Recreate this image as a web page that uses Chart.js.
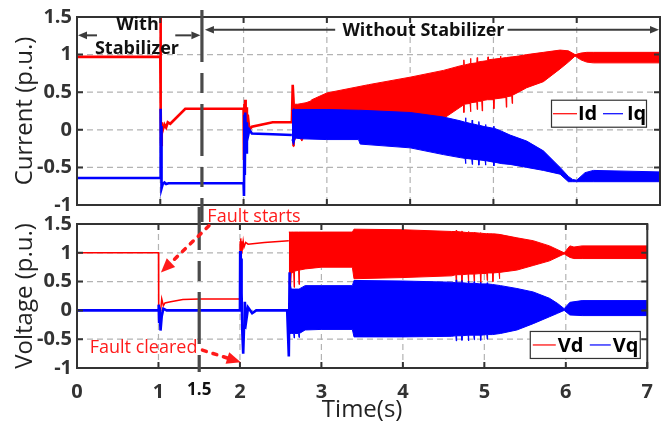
<!DOCTYPE html>
<html><head><meta charset="utf-8">
<script src="https://cdn.jsdelivr.net/npm/chart.js@4.4.1/dist/chart.umd.min.js"></script>
<style>
html,body{margin:0;padding:0;background:#fff;}
#wrap{position:relative;width:665px;height:427px;overflow:hidden;background:#fff;}
#c1{position:absolute;left:0;top:0;}
#c2{position:absolute;left:0;top:207px;}
</style></head><body>
<div id="wrap"><canvas id="c1" width="665" height="222"></canvas><canvas id="c2" width="665" height="220"></canvas></div>
<script>
// ---------- axis ticks ----------
const xTickVals = [0, 1, 1.5, 2, 3, 4, 5, 6, 7];
const xTickLabels = ['0', '1', '1.5', '2', '3', '4', '5', '6', '7'];
const yTickVals = [-1, -0.5, 0, 0.5, 1, 1.5];
const yTickLabels = ['-1', '-0.5', '0', '0.5', '1', '1.5'];
const xGridVals = [1, 2, 3, 4, 5, 6];
const yGridVals = [-0.5, 0, 0.5, 1];

// ---------- Current: Id ----------
const idT = [0, 1.0, 1.003, 1.006, 1.01, 1.015, 1.02, 1.03, 1.05, 1.07, 1.09, 1.12, 1.3, 2.0, 2.005, 2.01, 2.015, 2.02, 2.025, 2.03, 2.04, 2.05, 2.07, 2.1, 2.35, 2.58, 2.59, 2.6];
const idV = [0.97, 0.97, 1.5, 0.3, -0.2, 0.1, -0.05, 0.0, 0.07, 0.03, 0.1, 0.08, 0.28, 0.28, -0.4, 0.35, -0.3, 0.4, -0.2, 0.3, -0.1, 0.2, 0.0, 0.04, 0.1, 0.1, 0.6, -0.22];
const idBandT = [2.60, 2.61, 2.65, 2.70, 2.75, 2.80, 2.82, 3.00, 3.50, 4.00, 4.40, 4.60, 4.64, 4.645, 4.65, 4.72, 4.725, 4.73, 4.80, 4.805, 4.81, 4.86, 4.865, 4.87, 4.93, 4.935, 4.94, 5.00, 5.005, 5.01, 5.08, 5.085, 5.09, 5.15, 5.155, 5.16, 5.22, 5.225, 5.23, 5.30, 5.40, 5.60, 5.80, 5.90, 5.98, 6.05, 6.12, 6.20, 7.00];
const idUpper = [0.59, 0.34, 0.34, 0.35, 0.36, 0.38, 0.40, 0.49, 0.60, 0.70, 0.79, 0.85, 0.86, 0.93, 0.86, 0.88, 0.95, 0.88, 0.89, 0.96, 0.90, 0.91, 0.91, 0.91, 0.92, 0.97, 0.93, 0.94, 0.94, 0.94, 0.95, 0.98, 0.95, 0.96, 0.96, 0.96, 0.97, 0.97, 0.97, 0.98, 1.00, 1.03, 1.06, 1.05, 1.00, 1.02, 1.03, 1.03, 1.03];
const idLower = [-0.23, -0.15, -0.05, -0.15, -0.03, -0.12, -0.10, -0.08, -0.02, 0.10, 0.15, 0.30, 0.33, 0.23, 0.34, 0.35, 0.24, 0.36, 0.37, 0.27, 0.38, 0.38, 0.25, 0.39, 0.40, 0.40, 0.40, 0.40, 0.28, 0.41, 0.42, 0.42, 0.42, 0.43, 0.30, 0.44, 0.45, 0.35, 0.46, 0.50, 0.56, 0.64, 0.81, 0.90, 0.98, 0.93, 0.90, 0.89, 0.89];

// ---------- Current: Iq ----------
const iqT = [0, 1.0, 1.002, 1.006, 1.01, 1.015, 1.03, 1.05, 1.07, 1.1, 2.0, 2.005, 2.01, 2.015, 2.02, 2.03, 2.04, 2.05, 2.07, 2.1, 2.35, 2.58];
const iqV = [-0.64, -0.64, 0.28, -0.1, 0.05, -0.78, -0.72, -0.7, -0.72, -0.71, -0.71, -0.88, 0.2, -0.6, 0.23, -0.3, 0.1, -0.1, 0.0, -0.05, -0.06, -0.07];
const iqBandT = [2.58, 2.60, 2.62, 2.70, 3.00, 3.38, 3.40, 4.00, 4.40, 4.60, 4.66, 4.665, 4.67, 4.74, 4.745, 4.75, 4.82, 4.825, 4.83, 4.90, 4.905, 4.91, 5.00, 5.005, 5.01, 5.10, 5.20, 5.40, 5.60, 5.80, 5.90, 5.95, 6.00, 6.10, 6.20, 7.00];
const iqUpper = [0.25, 0.28, 0.27, 0.27, 0.27, 0.26, 0.26, 0.23, 0.17, 0.12, 0.10, 0.16, 0.10, 0.08, 0.13, 0.08, 0.06, 0.11, 0.06, 0.04, 0.07, 0.04, 0.02, 0.05, 0.02, -0.02, -0.07, -0.15, -0.28, -0.50, -0.62, -0.66, -0.67, -0.57, -0.54, -0.56];
const iqLower = [-0.13, -0.20, -0.11, -0.12, -0.13, -0.13, -0.19, -0.24, -0.33, -0.37, -0.38, -0.45, -0.38, -0.39, -0.46, -0.39, -0.40, -0.47, -0.40, -0.41, -0.47, -0.41, -0.43, -0.48, -0.43, -0.45, -0.46, -0.50, -0.54, -0.59, -0.69, -0.69, -0.69, -0.69, -0.69, -0.69];

// ---------- Voltage: Vd ----------
const vdT = [0, 1.0, 1.003, 1.01, 1.02, 1.04, 1.06, 1.08, 1.15, 1.3, 1.5, 2.0, 2.003, 2.008, 2.012, 2.016, 2.02, 2.03, 2.04, 2.05, 2.07, 2.1, 2.3, 2.6];
const vdV = [1.0, 1.0, -0.2, 0.0, -0.1, 0.2, 0.08, 0.13, 0.15, 0.19, 0.2, 0.2, 1.2, 0.8, 1.25, 1.0, 1.2, 1.08, 1.2, 1.1, 1.18, 1.15, 1.18, 1.21];
const vdBandT = [2.60, 2.62, 2.63, 2.66, 2.665, 2.67, 2.72, 2.725, 2.73, 2.80, 3.00, 3.38, 3.40, 4.00, 4.60, 4.65, 4.655, 4.66, 4.72, 4.725, 4.73, 4.80, 4.805, 4.81, 4.87, 4.875, 4.88, 4.95, 4.955, 4.96, 5.03, 5.035, 5.04, 5.10, 5.105, 5.11, 5.18, 5.185, 5.19, 5.40, 5.60, 5.80, 5.98, 6.05, 6.10, 6.20, 7.00];
const vdUpper = [1.36, 1.36, 1.36, 1.36, 1.36, 1.36, 1.36, 1.36, 1.36, 1.36, 1.36, 1.36, 1.41, 1.40, 1.37, 1.37, 1.39, 1.37, 1.36, 1.38, 1.36, 1.35, 1.37, 1.35, 1.35, 1.36, 1.35, 1.34, 1.35, 1.34, 1.33, 1.34, 1.33, 1.33, 1.33, 1.33, 1.32, 1.32, 1.32, 1.26, 1.21, 1.12, 1.00, 1.12, 1.10, 1.12, 1.12];
const vdLower = [0.50, 0.34, 0.65, 0.66, 0.40, 0.68, 0.70, 0.45, 0.70, 0.72, 0.75, 0.75, 0.55, 0.57, 0.60, 0.62, 0.46, 0.62, 0.62, 0.48, 0.62, 0.63, 0.45, 0.63, 0.63, 0.50, 0.63, 0.64, 0.47, 0.64, 0.64, 0.52, 0.65, 0.65, 0.50, 0.65, 0.66, 0.55, 0.66, 0.70, 0.78, 0.86, 0.98, 0.92, 0.90, 0.90, 0.90];

// ---------- Voltage: Vq ----------
const vqT = [0, 1.0, 1.003, 1.008, 1.015, 1.025, 1.04, 1.06, 1.1, 2.0, 2.003, 2.01, 2.015, 2.02, 2.03, 2.04, 2.05, 2.06, 2.08, 2.1, 2.15, 2.2, 2.58, 2.6, 2.61];
const vqV = [0, 0, 0.1, -0.2, 0.05, -0.35, -0.1, 0.03, 0.0, 0.0, 1.03, 0.6, 0.9, 0.3, -0.4, -0.75, -0.3, 0.15, -0.15, 0.05, -0.05, 0.0, 0.0, -0.8, 0.66];
const vqBandT = [2.61, 2.63, 2.66, 2.665, 2.67, 2.72, 2.725, 2.73, 2.80, 3.00, 3.38, 3.40, 4.00, 4.60, 4.65, 4.655, 4.66, 4.72, 4.725, 4.73, 4.80, 4.805, 4.81, 4.87, 4.875, 4.88, 4.95, 4.955, 4.96, 5.03, 5.035, 5.04, 5.10, 5.20, 5.40, 5.60, 5.80, 5.90, 5.98, 6.05, 6.20, 7.00];
const vqUpper = [0.50, 0.37, 0.37, 0.37, 0.37, 0.37, 0.37, 0.37, 0.43, 0.43, 0.43, 0.52, 0.51, 0.49, 0.48, 0.53, 0.48, 0.48, 0.52, 0.48, 0.47, 0.51, 0.47, 0.47, 0.50, 0.47, 0.46, 0.49, 0.46, 0.46, 0.48, 0.46, 0.45, 0.43, 0.38, 0.32, 0.21, 0.12, 0.03, 0.14, 0.17, 0.17];
const vqLower = [-0.40, -0.40, -0.40, -0.48, -0.40, -0.40, -0.47, -0.40, -0.34, -0.33, -0.33, -0.46, -0.46, -0.45, -0.44, -0.53, -0.44, -0.44, -0.52, -0.44, -0.43, -0.53, -0.43, -0.43, -0.51, -0.43, -0.43, -0.52, -0.43, -0.42, -0.50, -0.42, -0.42, -0.40, -0.34, -0.23, -0.11, -0.05, 0.00, -0.08, -0.09, -0.09];

// ---------- helpers ----------
const RED = '#ff0000', BLUE = '#0000ff', TXTRED = '#ff1a1a';
const FF = "'Open Sans'";
function pts(xs, ys) { return xs.map((x, i) => ({ x: x, y: ys[i] })); }
function ds(label, xs, ys, color, w, order, fill) {
  return { label, data: pts(xs, ys), borderColor: color, backgroundColor: color, borderWidth: w,
    pointRadius: 0, pointHoverRadius: 0, tension: 0, fill: fill || false, order };
}
function xScale(show) {
  return {
    type: 'linear', min: 0, max: 7, display: show,
    afterBuildTicks: s => { s.ticks = xTickVals.map(v => ({ value: v })); },
    afterFit: s => { if (show) s.height = 59; },
    grid: { display: false, drawTicks: false }, border: { display: false },
    ticks: {
      autoSkip: false, maxRotation: 0, padding: 12,
      callback: v => xTickLabels[xTickVals.indexOf(v)],
      font: c => ({ family: FF, weight: 'bold', size: (c.tick && c.tick.value === 1.5) ? 17 : 20 }),
      color: c => (c.tick && c.tick.value === 1.5) ? '#111' : '#333'
    },
    title: { display: show, text: 'Time(s)', font: { family: FF, size: 24 }, color: '#222', padding: { top: 0, bottom: 2 } }
  };
}
function yScale(title) {
  return {
    type: 'linear', min: -1, max: 1.5,
    afterBuildTicks: s => { s.ticks = yTickVals.map(v => ({ value: v })); },
    afterFit: s => { s.width = 77; },
    grid: { display: false, drawTicks: false }, border: { display: false },
    ticks: {
      autoSkip: false, padding: 5,
      callback: v => yTickLabels[yTickVals.indexOf(v)],
      font: { family: FF, weight: 'bold', size: 20 }, color: '#333'
    },
    title: { display: true, text: title, font: { family: FF, size: 24 }, color: '#222', padding: { top: 11, bottom: 0 } }
  };
}
function drawGrid(chart) {
  const { ctx, chartArea: a, scales: { x, y } } = chart;
  ctx.save();
  ctx.strokeStyle = '#b3b3b3'; ctx.lineWidth = 1.2; ctx.setLineDash([6, 4]);
  xGridVals.forEach(v => { const p = x.getPixelForValue(v); ctx.beginPath(); ctx.moveTo(p, a.top); ctx.lineTo(p, a.bottom); ctx.stroke(); });
  yGridVals.forEach(v => { const p = y.getPixelForValue(v); ctx.beginPath(); ctx.moveTo(a.left, p); ctx.lineTo(a.right, p); ctx.stroke(); });
  ctx.restore();
}
function drawFrame(chart) {
  const { ctx, chartArea: a, scales: { x, y } } = chart;
  ctx.save();
  ctx.strokeStyle = '#333'; ctx.lineWidth = 2;
  ctx.strokeRect(a.left, a.top, a.right - a.left, a.bottom - a.top);
  const L = 6;
  ctx.beginPath();
  xTickVals.forEach(v => { if (v === 1.5) return; const p = x.getPixelForValue(v);
    ctx.moveTo(p, a.bottom); ctx.lineTo(p, a.bottom - L); ctx.moveTo(p, a.top); ctx.lineTo(p, a.top + L); });
  yTickVals.forEach(v => { const p = y.getPixelForValue(v);
    ctx.moveTo(a.left, p); ctx.lineTo(a.left + L, p); ctx.moveTo(a.right, p); ctx.lineTo(a.right - L, p); });
  ctx.stroke();
  ctx.restore();
}
function drawStab(chart, y0, y1, offset) {
  const { ctx, scales: { x } } = chart;
  const p = x.getPixelForValue(1.5);
  ctx.save();
  ctx.strokeStyle = '#4a4a4a'; ctx.lineWidth = 3.2;
  ctx.setLineDash([52, 11, 20, 11]); ctx.lineDashOffset = offset;
  ctx.beginPath(); ctx.moveTo(p, y0); ctx.lineTo(p, y1); ctx.stroke();
  ctx.restore();
}
function txt(ctx, s, x, y, font, color, align) {
  ctx.save(); ctx.font = font; ctx.fillStyle = color; ctx.textAlign = align || 'center'; ctx.textBaseline = 'middle';
  ctx.fillText(s, x, y); ctx.restore();
}
function arrowGray(ctx, x1, y1, x2, y2) {
  ctx.save(); ctx.strokeStyle = '#3c3c3c'; ctx.fillStyle = '#3c3c3c'; ctx.lineWidth = 2;
  const ang = Math.atan2(y2 - y1, x2 - x1), hl = 9, hw = 3.8;
  const bx = x2 - hl * Math.cos(ang), by = y2 - hl * Math.sin(ang);
  ctx.beginPath(); ctx.moveTo(x1, y1); ctx.lineTo(bx, by); ctx.stroke();
  ctx.beginPath(); ctx.moveTo(x2, y2);
  ctx.lineTo(bx + hw * Math.sin(ang), by - hw * Math.cos(ang));
  ctx.lineTo(bx - hw * Math.sin(ang), by + hw * Math.cos(ang));
  ctx.closePath(); ctx.fill();
  ctx.restore();
}
function arrowRed(ctx, x1, y1, x2, y2) {
  ctx.save(); ctx.strokeStyle = TXTRED; ctx.fillStyle = TXTRED; ctx.lineWidth = 3.5; ctx.lineCap = 'round';
  const ang = Math.atan2(y2 - y1, x2 - x1), hl = 14, hw = 6;
  const bx = x2 - hl * Math.cos(ang), by = y2 - hl * Math.sin(ang);
  ctx.setLineDash([4, 7]);
  ctx.beginPath(); ctx.moveTo(x1, y1); ctx.lineTo(bx, by); ctx.stroke();
  ctx.setLineDash([]);
  ctx.beginPath(); ctx.moveTo(x2, y2);
  ctx.lineTo(bx + hw * Math.sin(ang), by - hw * Math.cos(ang));
  ctx.lineTo(bx - hw * Math.sin(ang), by + hw * Math.cos(ang));
  ctx.closePath(); ctx.fill();
  ctx.restore();
}
function drawLegend(ctx, L, T, W, H, items) {
  ctx.save();
  ctx.fillStyle = '#fff'; ctx.fillRect(L, T, W, H);
  ctx.strokeStyle = '#333'; ctx.lineWidth = 1.2; ctx.strokeRect(L + 0.5, T + 0.5, W, H);
  const cy = T + H / 2 + 0.5;
  items.forEach(it => {
    ctx.strokeStyle = it.color; ctx.lineWidth = 1.2;
    ctx.beginPath(); ctx.moveTo(L + it.a, cy); ctx.lineTo(L + it.b, cy); ctx.stroke();
    txt(ctx, it.label, L + it.t, cy + 1, "bold 20px " + FF, '#000', 'left');
  });
  ctx.restore();
}

// ---------- top chart decorations ----------
const decoTop = {
  id: 'decoTop',
  beforeDatasetsDraw(chart) { drawGrid(chart); },
  afterDatasetsDraw(chart) {
    const { ctx, chartArea: a, scales: { x, y } } = chart;
    drawFrame(chart);
    drawStab(chart, 10, chart.height, 0);
    const X = v => x.getPixelForValue(v), Y = v => y.getPixelForValue(v);
    arrowGray(ctx, X(0.24), Y(1.256), X(0) + 1, Y(1.256));
    arrowGray(ctx, X(1.18), Y(1.256), X(1.5) - 1.5, Y(1.256));
    arrowGray(ctx, X(3.1), Y(1.33), X(1.5) + 3, Y(1.33));
    arrowGray(ctx, X(5.17), Y(1.33), X(7) - 1, Y(1.33));
    const bf = "bold 18px " + FF;
    txt(ctx, 'With', X(0.726), Y(1.40), bf, '#111');
    txt(ctx, 'Stabilizer', X(0.72), Y(1.077), bf, '#111');
    txt(ctx, 'Without Stabilizer', X(4.16), Y(1.32), bf, '#111');
    drawLegend(ctx, a.right - 109, Y(0.4), 95, 27, [
      { color: RED, a: 2, b: 26, t: 27, label: 'Id' },
      { color: BLUE, a: 52, b: 72, t: 76, label: 'Iq' }
    ]);
  }
};
// ---------- bottom chart decorations ----------
const decoBot = {
  id: 'decoBot',
  beforeDatasetsDraw(chart) { drawGrid(chart); },
  afterDatasetsDraw(chart) {
    const { ctx, chartArea: a, scales: { x, y } } = chart;
    drawFrame(chart);
    drawStab(chart, 0, a.bottom + 4, 197);
    const X = v => x.getPixelForValue(v), Y = v => y.getPixelForValue(v);
    const rf = "18px " + FF;
    txt(ctx, 'Fault starts', X(1.6), Y(1.63), rf, TXTRED, 'left');
    arrowRed(ctx, X(1.62), Y(1.47), X(1.03), Y(0.66));
    txt(ctx, 'Fault cleared', X(0.156), Y(-0.65), rf, TXTRED, 'left');
    arrowRed(ctx, X(1.54), Y(-0.69), X(2.01), Y(-0.9));
    drawLegend(ctx, a.right - 117.5, Y(-0.357), 110, 27, [
      { color: RED, a: 3, b: 26, t: 28, label: 'Vd' },
      { color: BLUE, a: 60, b: 81, t: 83, label: 'Vq' }
    ]);
  }
};

Chart.defaults.font.family = FF;
const baseOpts = (pad, showX, title) => ({
  responsive: false, animation: false, devicePixelRatio: 1,
  layout: { padding: pad },
  plugins: { legend: { display: false }, tooltip: { enabled: false } },
  events: [],
  scales: { x: xScale(showX), y: yScale(title) }
});

new Chart(document.getElementById('c1'), {
  type: 'line',
  data: { datasets: [
    ds('Id', idT, idV, RED, 2.6, 2),
    ds('Id upper', idBandT, idUpper, RED, 1, 2),
    ds('Id lower', idBandT, idLower, RED, 1, 2, '-1'),
    ds('Iq', iqT, iqV, BLUE, 2.6, 1),
    ds('Iq upper', iqBandT, iqUpper, BLUE, 1, 1),
    ds('Iq lower', iqBandT, iqLower, BLUE, 1, 1, '-1')
  ] },
  options: baseOpts({ top: 12, right: 5, bottom: 16, left: 0 }, false, 'Current (p.u.)'),
  plugins: [decoTop]
});

new Chart(document.getElementById('c2'), {
  type: 'line',
  data: { datasets: [
    ds('Vd', vdT, vdV, RED, 1.5, 2),
    ds('Vd upper', vdBandT, vdUpper, RED, 1, 2),
    ds('Vd lower', vdBandT, vdLower, RED, 1, 2, '-1'),
    ds('Vq', vqT, vqV, BLUE, 2.6, 1),
    ds('Vq upper', vqBandT, vqUpper, BLUE, 1, 1),
    ds('Vq lower', vqBandT, vqLower, BLUE, 1, 1, '-1')
  ] },
  options: baseOpts({ top: 16, right: 5, bottom: 0, left: 0 }, true, 'Voltage (p.u.)'),
  plugins: [decoBot]
});
</script></body></html>
